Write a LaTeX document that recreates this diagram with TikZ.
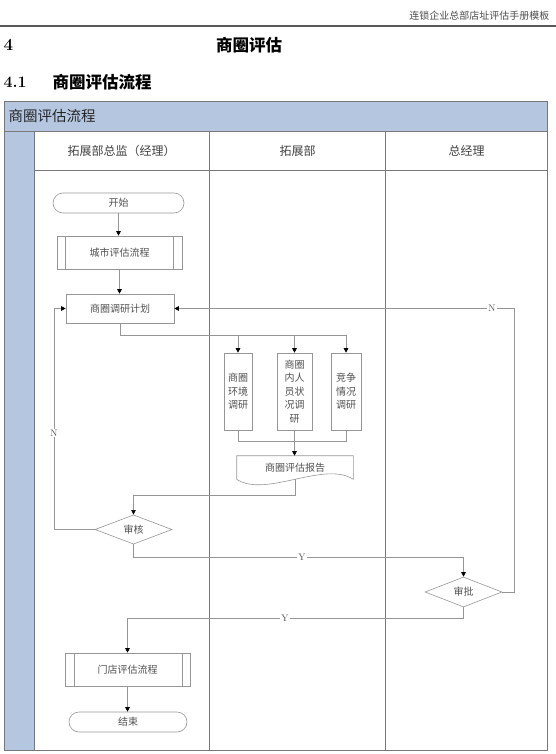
\documentclass[tikz,border=0pt]{standalone}
\usepackage{fontspec}
\newfontfamily\cjk{Noto Sans CJK SC}
\usetikzlibrary{arrows.meta,shapes.geometric}
\definecolor{lanebl}{RGB}{180,198,224}
\definecolor{lgrey}{RGB}{120,120,120}
\definecolor{fgrey}{RGB}{150,150,150}
\definecolor{tgrey}{RGB}{80,80,80}
\tikzset{
  ln/.style={draw=fgrey, line width=0.6pt},
  arr/.style={ln, -{Triangle[length=4.5pt,width=4.5pt,color=black]}},
  base/.style={draw=fgrey, line width=0.6pt, text=tgrey, font=\cjk\fontsize{10}{13.5}\selectfont, inner sep=0pt, align=center},
  term/.style={base, rectangle, rounded corners=10pt, minimum height=20pt},
  proc/.style={base, rectangle},
  dec/.style={base, diamond},
  lab/.style={fill=white, inner sep=1pt, text=tgrey, font=\fontsize{9.5}{10}\selectfont},
  lanehd/.style={text=tgrey!80!black, font=\cjk\fontsize{12}{14}\selectfont},
  laneln/.style={draw=lgrey, line width=0.8pt}
}
\begin{document}
\begin{tikzpicture}[x=1pt,y=-1pt]
\useasboundingbox (0,0) rectangle (556,754);
% page header
\node[anchor=east, font=\cjk\fontsize{10}{12}\selectfont, text=black!70] (hdr) at (553,16) {连锁企业总部店址评估手册模板};
\draw[black!65, line width=1.2pt] (0,26) -- (556,26);
\node[anchor=west, font=\bfseries\fontsize{17}{18}\selectfont] (secnum) at (0,45) {4};
\node[font=\cjk\bfseries\fontsize{16.5}{18}\selectfont] (sectitle) at (249,45) {商圈评估};
\node[anchor=west, font=\bfseries\fontsize{16}{18}\selectfont] (subnum) at (0,82) {4.1};
\node[anchor=west, font=\cjk\bfseries\fontsize{16.5}{18}\selectfont] (subtitle) at (49,82) {商圈评估流程};
% swimlane frame
\fill[lanebl] (4,101) rectangle (547,131);
\fill[lanebl] (4,131) rectangle (34,750);
\draw[laneln] (4,101) rectangle (547,750);
\draw[laneln] (4,131) -- (547,131);
\draw[laneln] (34,131) -- (34,750);
\draw[laneln] (34,170) -- (547,170);
\draw[laneln] (209.5,131) -- (209.5,750);
\draw[laneln] (385.5,131) -- (385.5,750);
\node[anchor=west, text=black!85, font=\cjk\fontsize{14.5}{16}\selectfont] (lanetitle) at (5,116) {商圈评估流程};
\node[lanehd] (lane1) at (121.5,151) {拓展部总监（经理）};
\node[lanehd] (lane2) at (297.5,151) {拓展部};
\node[lanehd] (lane3) at (466.5,151) {总经理};
% nodes
\node[term, minimum width=131pt] (start) at (118.5,203) {开始};
\node[proc, minimum width=125pt, minimum height=33pt] (city) at (119.5,252.5) {城市评估流程};
\draw[ln] ([xshift=9pt]city.north west) -- ([xshift=9pt]city.south west);
\draw[ln] ([xshift=-9pt]city.north east) -- ([xshift=-9pt]city.south east);
\node[proc, minimum width=108pt, minimum height=29pt] (plan) at (120,308.5) {商圈调研计划};
\node[proc, minimum width=28pt, minimum height=77pt] (b1) at (238,391.5) {商圈\\环境\\调研};
\node[proc, minimum width=35pt, minimum height=77pt] (b2) at (294.5,391.5) {商圈\\内人\\员状\\况调\\研};
\node[proc, minimum width=30pt, minimum height=77pt] (b3) at (346,391.5) {竞争\\情况\\调研};
\node[base, draw=none, minimum width=116pt, minimum height=23pt] (rep) at (295,467.5) {商圈评估报告};
\draw[ln] (rep.south west) -- (rep.north west) -- (rep.north east) -- (rep.south east)
  .. controls +(-29,-19) and +(29,19) .. (rep.south west);
\node[dec, minimum width=77pt, minimum height=29pt] (sh) at (133.5,529.5) {审核};
\node[dec, minimum width=77pt, minimum height=30pt] (sp) at (463.5,592) {审批};
\node[proc, minimum width=125pt, minimum height=33pt] (store) at (127.5,669.5) {门店评估流程};
\draw[ln] ([xshift=10pt]store.north west) -- ([xshift=10pt]store.south west);
\draw[ln] ([xshift=-8pt]store.north east) -- ([xshift=-8pt]store.south east);
\node[term, minimum width=118pt] (end) at (128,722) {结束};
% helper coordinates
\coordinate (bus1) at (0,335);
\coordinate (bus2) at (0,441);
\coordinate (c3) at (0,495);
\coordinate (cN1) at (54,0);
\coordinate (c4) at (0,557);
\coordinate (cN2) at (514,0);
\coordinate (c5) at (0,618);
% connectors
\draw[arr] (start.south) -- (start.south |- city.north);
\draw[arr] (city.south) -- (city.south |- plan.north);
\draw[ln] (plan.south) |- (b3.north |- bus1);
\draw[arr] (b1.north |- bus1) -- (b1.north);
\draw[arr] (b2.north |- bus1) -- (b2.north);
\draw[arr] (b3.north |- bus1) -- (b3.north);
\draw[ln] (b1.south) |- (b3.south |- bus2) -- (b3.south);
\draw[arr] (b2.south) -- (b2.south |- rep.north);
\draw[arr] (rep.south) |- (sh.north |- c3) -- (sh.north);
\draw[arr] (sh.west) -| (cN1 |- plan.west) -- (plan.west);
\node[lab] (n1) at (54,433) {N};
\draw[arr] (sh.south) |- (sp.north |- c4) -- (sp.north);
\node[lab] (y1) at (302,557) {Y};
\draw[arr] (sp.east) -| (cN2 |- plan.east) -- (plan.east);
\node[lab] (n2) at (492,308.5) {N};
\draw[arr] (sp.south) |- (store.north |- c5) -- (store.north);
\node[lab] (y2) at (285,618) {Y};
\draw[arr] (store.south) -- (store.south |- end.north);
\end{tikzpicture}
\end{document}
